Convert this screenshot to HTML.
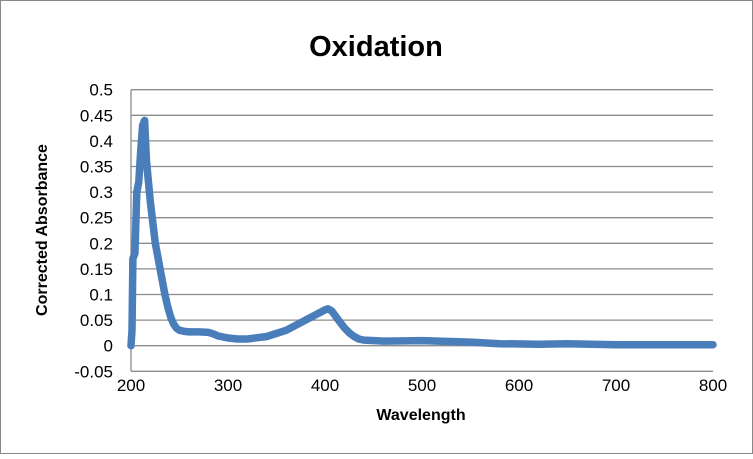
<!DOCTYPE html>
<html><head><style>
html,body{margin:0;padding:0;background:#fff;}
body{width:753px;height:454px;overflow:hidden;}
</style></head><body>
<svg id="s" width="753" height="454" xmlns="http://www.w3.org/2000/svg" font-family="Liberation Sans, sans-serif">
<rect x="0.5" y="0.5" width="752" height="453" fill="#fff" stroke="#888"/>
<text x="376" y="56" text-anchor="middle" font-size="29" font-weight="bold" fill="#000">Oxidation</text>
<g id="grid" stroke="#8c8c8c" stroke-width="1.3"></g>
<g id="ylab" font-size="17" text-anchor="end" fill="#000"></g>
<g id="xlab" font-size="17" text-anchor="middle" fill="#000"></g>
<text x="421" y="420" text-anchor="middle" font-size="16" font-weight="bold">Wavelength</text>
<text transform="translate(47,230) rotate(-90)" text-anchor="middle" font-size="16" font-weight="bold">Corrected Absorbance</text>
<path id="curve" fill="none" stroke="#4a7ebb" stroke-width="7.5" stroke-linejoin="round" stroke-linecap="round"/>
</svg>
<script>
var L=131,R=713,Y0=345.7,S=512;
function X(n){return L+(n-200)*(R-L)/600;}
function Y(v){return Y0-v*S;}
var g=document.getElementById('grid'),yl=document.getElementById('ylab'),xl=document.getElementById('xlab');
var ns='http://www.w3.org/2000/svg';
var labs=['-0.05','0','0.05','0.1','0.15','0.2','0.25','0.3','0.35','0.4','0.45','0.5'];
for(var i=0;i<12;i++){var v=-0.05+i*0.05,y=Y(v);
 if(i>0){var l=document.createElementNS(ns,'line');l.setAttribute('x1',L);l.setAttribute('x2',R);l.setAttribute('y1',y);l.setAttribute('y2',y);g.appendChild(l);}
 var t=document.createElementNS(ns,'text');t.setAttribute('x',113);t.setAttribute('y',y+6);t.textContent=labs[i];yl.appendChild(t);}
var b=document.createElementNS(ns,'line');b.setAttribute('x1',L);b.setAttribute('x2',R);b.setAttribute('y1',Y(-0.05));b.setAttribute('y2',Y(-0.05));g.appendChild(b);
var a=document.createElementNS(ns,'line');a.setAttribute('x1',L);a.setAttribute('x2',L);a.setAttribute('y1',Y(0.5));a.setAttribute('y2',Y(-0.05));g.appendChild(a);
for(var n=200;n<=800;n+=100){var t=document.createElementNS(ns,'text');t.setAttribute('x',X(n));t.setAttribute('y',391);t.textContent=n;xl.appendChild(t);}
var p=[[200,0],[201,0.03],[202,0.17],[204,0.18],[206,0.3],[208,0.32],[210,0.38],[212,0.43],[214,0.44],[216,0.36],[220,0.28],[225,0.2],[230,0.15],[235,0.1],[238,0.075],[241,0.055],[244,0.042],[247,0.034],[250,0.03],[255,0.028],[260,0.027],[270,0.027],[280,0.026],[285,0.023],[290,0.019],[300,0.015],[310,0.013],[320,0.013],[340,0.018],[360,0.03],[380,0.05],[395,0.065],[400,0.07],[403,0.072],[407,0.068],[410,0.06],[415,0.047],[420,0.035],[425,0.025],[430,0.018],[435,0.013],[440,0.011],[460,0.009],[500,0.01],[550,0.007],[580,0.004],[620,0.003],[650,0.004],[700,0.002],[800,0.002]];
var d='';p.forEach(function(q,i){d+=(i?'L':'M')+X(q[0]).toFixed(1)+' '+Y(q[1]).toFixed(1);});
document.getElementById('curve').setAttribute('d',d);
</script>
</body></html>
